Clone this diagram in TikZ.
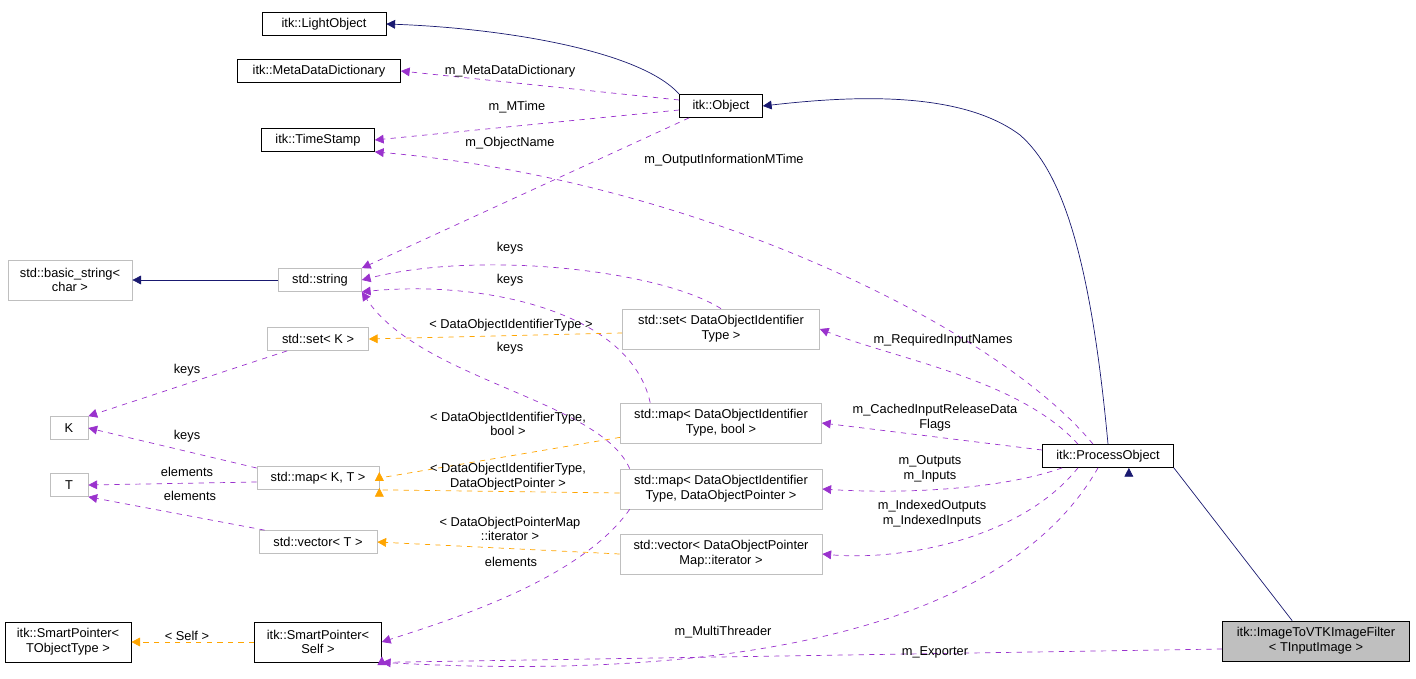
\documentclass[tikz,border=0pt]{standalone}
\usepackage{fontspec}
\setmainfont{Liberation Sans}
\usetikzlibrary{positioning,arrows.meta}
\definecolor{navyedge}{HTML}{191970}
\definecolor{useedge}{HTML}{9A32CD}
\definecolor{tmpledge}{HTML}{FFA500}
\definecolor{greybox}{HTML}{BFBFBF}
\begin{document}
\begin{tikzpicture}[x=0.02cm,y=-0.02cm,
	every node/.style={font=\fontsize{7.3}{8.4}\selectfont},
	cls/.style={draw=black,fill=white,minimum height=0.46cm,inner sep=2pt,align=center},
	ext/.style={cls,draw=greybox},
	twoline/.style={minimum height=0.8cm},
	lbl/.style={inner sep=0pt,align=center},
	inherit/.style={navyedge,-{Triangle[length=5pt,width=5pt]}},
	uses/.style={useedge,dashed,-{Triangle[length=5pt,width=5pt]}},
	tmpl/.style={tmpledge,dashed,-{Triangle[length=5pt,width=5pt]}}]
\useasboundingbox (0,0) rectangle (1416,679);

% classes
\node[cls,minimum width=2.48cm] (light) at (324,24) {itk::LightObject};
\node[cls,minimum width=3.26cm] (mdd) at (319,71) {itk::MetaDataDictionary};
\node[cls,minimum width=2.26cm] (tstamp) at (318,140) {itk::TimeStamp};
\node[cls,minimum width=1.66cm] (obj) at (721,106) {itk::Object};
\node[ext,twoline,minimum width=2.48cm] (bstr) at (70,280) {std::basic\_string\textless\\char \textgreater};
\node[ext,minimum width=1.66cm] (str) at (320,280) {std::string};
\node[ext,minimum width=2.02cm] (setk) at (318,339) {std::set\textless{} K \textgreater};
\node[ext,minimum width=0.76cm] (k) at (69,428) {K};
\node[ext,minimum width=0.76cm] (t) at (69,485) {T};
\node[ext,minimum width=2.44cm] (mapkt) at (318,478) {std::map\textless{} K, T \textgreater};
\node[ext,minimum width=2.36cm] (vect) at (318,542) {std::vector\textless{} T \textgreater};
\node[cls,twoline,minimum width=2.52cm] (spobj) at (68,642) {itk::SmartPointer\textless\\TObjectType \textgreater};
\node[cls,twoline,minimum width=2.54cm] (spself) at (318,642) {itk::SmartPointer\textless\\Self \textgreater};
\node[ext,twoline,minimum width=3.94cm] (setdoi) at (721,329) {std::set\textless{} DataObjectIdentifier\\Type \textgreater};
\node[ext,twoline,minimum width=4.02cm] (mapbool) at (721,423) {std::map\textless{} DataObjectIdentifier\\Type, bool \textgreater};
\node[ext,twoline,minimum width=4.04cm] (mapdop) at (721,489) {std::map\textless{} DataObjectIdentifier\\Type, DataObjectPointer \textgreater};
\node[ext,twoline,minimum width=4.04cm] (veciter) at (721,554) {std::vector\textless{} DataObjectPointer\\Map::iterator \textgreater};
\node[cls,minimum width=2.62cm] (proc) at (1108,456) {itk::ProcessObject};
\node[cls,twoline,fill=greybox,minimum width=3.74cm] (filter) at (1316,641) {itk::ImageToVTKImageFilter\\\textless{} TInputImage \textgreater};

% inheritance
\draw[inherit] (obj.north west) .. controls (640,50) and (500,28) .. (light.east);
\draw[inherit] (proc.north) .. controls (1090,250) and (1060,170) .. (1020,135) .. controls (960,90) and (850,96) .. (obj.east);
\draw[inherit] (filter.north west) ++(70,0) -- (proc.south east) ++(-45,0);
\draw[inherit] (str.west) -- (bstr.east);

% members
\draw[uses] (obj.west) ++(0,-6) -- (mdd.east);
\draw[uses] (obj.west) ++(0,4) -- (tstamp.east);
\draw[uses] (obj.south west) ++(10,0) -- (str.north east);
\draw[uses] (proc.north) ++(-15,0) .. controls (1000,330) and (700,180) .. (tstamp.south east);
\draw[uses] (setdoi.north) .. controls (660,270) and (480,250) .. (str.east);
\draw[uses] (mapbool.north west) ++(30,0) .. controls (630,310) and (480,280) .. (str.south east);
\draw[uses] (mapdop.north west) ++(10,0) .. controls (600,400) and (420,380) .. (str.south east);
\draw[uses] (setk.south west) ++(20,0) -- (k.north east);
\draw[uses] (mapkt.west) ++(0,-10) -- (k.east);
\draw[uses] (mapkt.west) ++(0,4) -- (t.east);
\draw[uses] (vect.north west) ++(6,0) -- (t.south east);
\draw[uses] (mapdop.south west) ++(10,0) .. controls (580,580) and (450,620) .. (spself.east);
\draw[uses] (proc.north) ++(-30,0) .. controls (1020,380) and (900,360) .. (setdoi.east);
\draw[uses] (proc.west) ++(0,-6) .. controls (960,440) and (880,430) .. (mapbool.east);
\draw[uses] (proc.south west) ++(20,0) .. controls (1000,490) and (900,494) .. (mapdop.east);
\draw[uses] (proc.south) ++(-30,0) .. controls (1020,540) and (900,561) .. (veciter.east);
\draw[uses] (proc.south) ++(-10,0) .. controls (1000,640) and (700,680) .. (spself.south east);
\draw[uses] (filter.west) ++(0,8) -- (spself.south east) ++(0,-6);

% template instances
\draw[tmpl] (setdoi.west) ++(0,4) -- (setk.east);
\draw[tmpl] (mapbool.south west) ++(0,-6) -- (mapkt.east) ++(0,-6);
\draw[tmpl] (mapdop.west) ++(0,4) -- (mapkt.south east) ++(0,-2);
\draw[tmpl] (veciter.west) -- (vect.east);
\draw[tmpl] (spself.west) -- (spobj.east);

% labels
\node[lbl] (lmdd) at (510,71) {m\_MetaDataDictionary};
\node[lbl] (lmtime) at (517,107) {m\_MTime};
\node[lbl] (lname) at (510,143) {m\_ObjectName};
\node[lbl] (loutinfo) at (724,160) {m\_OutputInformationMTime};
\node[lbl] (lkeys1) at (510,248) {keys};
\node[lbl] (lkeys2) at (510,280) {keys};
\node[lbl] (lkeys3) at (510,348) {keys};
\node[lbl] (lkeys4) at (187,370) {keys};
\node[lbl] (lkeys5) at (187,436) {keys};
\node[lbl] (lelem1) at (187,472) {elements};
\node[lbl] (lelem2) at (190,496) {elements};
\node[lbl] (lelem3) at (511,562) {elements};
\node[lbl] (lreq) at (943,340) {m\_RequiredInputNames};
\node[lbl] (lcache) at (935,418) {m\_CachedInputReleaseData\\Flags};
\node[lbl] (lio) at (930,469) {m\_Outputs\\m\_Inputs};
\node[lbl] (lidx) at (932,514) {m\_IndexedOutputs\\m\_IndexedInputs};
\node[lbl] (lthr) at (723,632) {m\_MultiThreader};
\node[lbl] (lexp) at (935,652) {m\_Exporter};
\node[lbl] (tset) at (511,325) {\textless{} DataObjectIdentifierType \textgreater};
\node[lbl] (tbool) at (508,424) {\textless{} DataObjectIdentifierType,\\bool \textgreater};
\node[lbl] (tdop) at (508,477) {\textless{} DataObjectIdentifierType,\\DataObjectPointer \textgreater};
\node[lbl] (titer) at (510,529) {\textless{} DataObjectPointerMap\\::iterator \textgreater};
\node[lbl] (tself) at (187,636) {\textless{} Self \textgreater};
\end{tikzpicture}
\end{document}
